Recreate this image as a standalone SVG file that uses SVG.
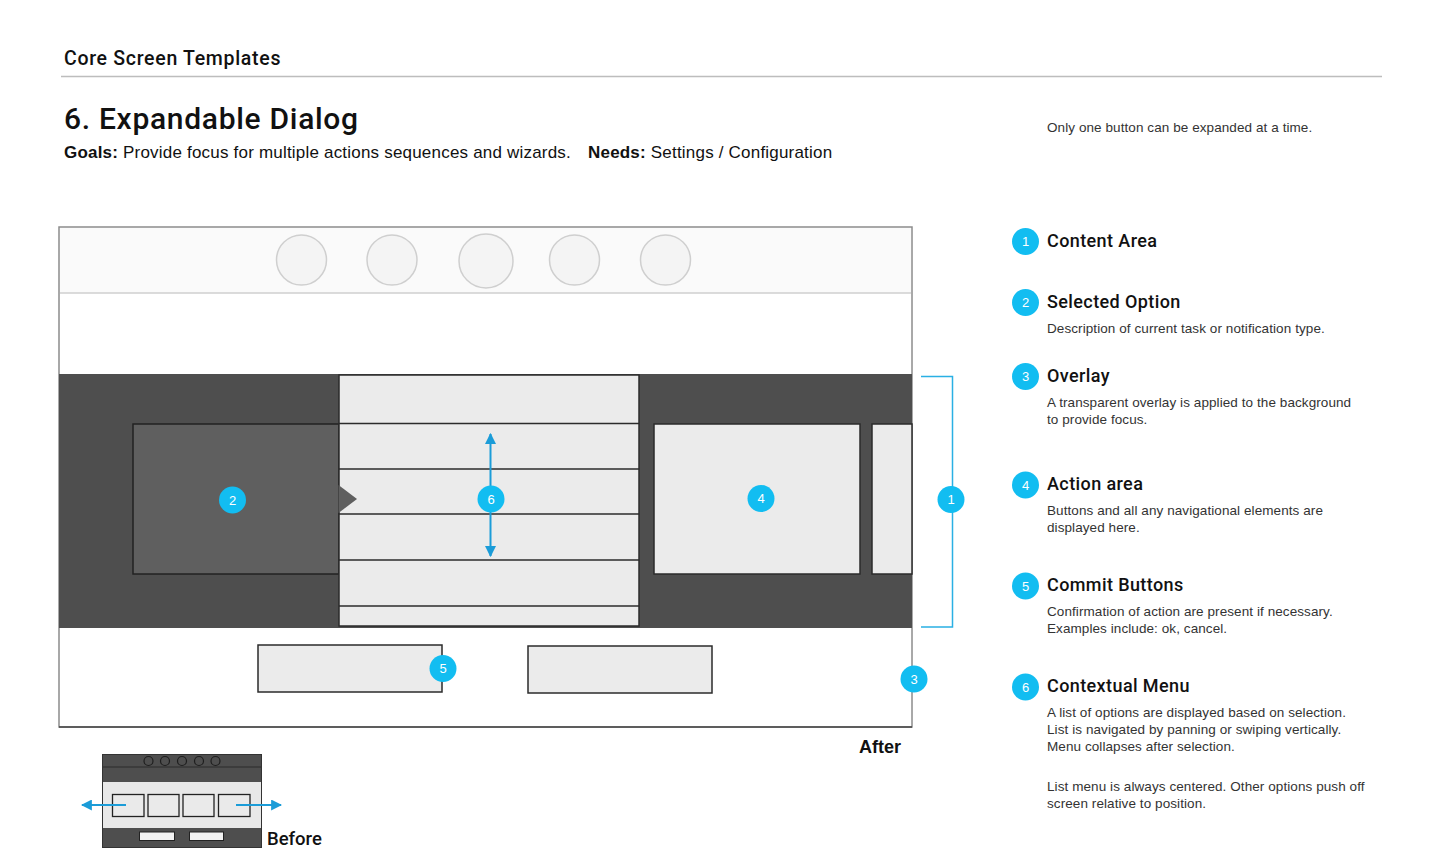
<svg xmlns="http://www.w3.org/2000/svg" width="1440" height="859" viewBox="0 0 1440 859">
<style>
.t{font-family:"Liberation Sans",Arial,sans-serif;fill:#111}
.h{font-family:Roboto,"Liberation Sans",sans-serif;font-weight:500;fill:#111}
.d{font-family:"Liberation Sans",Arial,sans-serif;font-size:13.5px;fill:#333;letter-spacing:0.08px}
.lh{font-family:Roboto,"Liberation Sans",sans-serif;font-weight:500;font-size:18px;fill:#111;letter-spacing:0.4px}
.bd{fill:#12bdf1}
.bn{font-family:"Liberation Sans",Arial,sans-serif;font-size:13px;fill:#fff;text-anchor:middle}
.item{fill:#ebebeb;stroke:#2b2b2b;stroke-width:1.5}
.nav{fill:#f4f4f4;stroke:#cfcfcf;stroke-width:1.5}
.blue{stroke:#1b9cd8;stroke-width:2;fill:none}
</style>
<defs>
<marker id="ah" viewBox="0 0 10 10" refX="9" refY="5" markerWidth="5.5" markerHeight="5.5" orient="auto-start-reverse">
<path d="M0,0 L10,5 L0,10 z" fill="#1b9cd8"/>
</marker>
</defs>
<rect width="1440" height="859" fill="#fff"/>

<g id="header">
<text class="h" x="64" y="65" font-size="19.5" letter-spacing="0.7">Core Screen Templates</text>
<line x1="61" y1="76.5" x2="1382" y2="76.5" stroke="#bdbdbd" stroke-width="1.5"/>
<text class="h" x="64" y="129" font-size="30" letter-spacing="0.7">6. Expandable Dialog</text>
<text class="t" x="64" y="158" font-size="17" letter-spacing="0.2"><tspan font-weight="bold">Goals:</tspan> Provide focus for multiple actions sequences and wizards.</text>
<text class="t" x="588" y="158" font-size="17" letter-spacing="0.2"><tspan font-weight="bold">Needs:</tspan> Settings / Configuration</text>
<text class="d" x="1047" y="132">Only one button can be expanded at a time.</text>
</g>

<g id="screen-after">
<rect x="59" y="227" width="853" height="500" fill="#fff" stroke="#8c8c8c" stroke-width="1.5"/>
<rect x="60" y="228" width="851" height="65" fill="#fafafa"/>
<line x1="60" y1="293" x2="911" y2="293" stroke="#cfcfcf" stroke-width="1.5"/>
<circle class="nav" cx="301.5" cy="260" r="25"/>
<circle class="nav" cx="392" cy="260" r="25"/>
<circle class="nav" cx="486" cy="261" r="27"/>
<circle class="nav" cx="574.5" cy="260" r="25"/>
<circle class="nav" cx="665.5" cy="260" r="25"/>
<line x1="59" y1="727" x2="912" y2="727" stroke="#444" stroke-width="1.5"/>
</g>

<g id="overlay">
<rect x="59" y="374" width="853" height="254" fill="#4e4e4e"/>
</g>

<g id="selected-option">
<rect x="133" y="424" width="206" height="150" fill="#5f5f5f" stroke="#222" stroke-width="1.5"/>
</g>

<g id="contextual-menu">
<rect x="339" y="375" width="300" height="251" class="item"/>
<line x1="339" y1="423.5" x2="639" y2="423.5" stroke="#2b2b2b" stroke-width="1.5"/>
<line x1="339" y1="469" x2="639" y2="469" stroke="#2b2b2b" stroke-width="1.5"/>
<line x1="339" y1="514" x2="639" y2="514" stroke="#2b2b2b" stroke-width="1.5"/>
<line x1="339" y1="560" x2="639" y2="560" stroke="#2b2b2b" stroke-width="1.5"/>
<line x1="339" y1="606" x2="639" y2="606" stroke="#2b2b2b" stroke-width="1.5"/>
<path d="M338.5,485 L357,499 L338.5,513 z" fill="#5f5f5f"/>
</g>

<g id="action-area">
<rect x="654" y="424" width="206" height="150" class="item"/>
<rect x="872" y="424" width="40" height="150" class="item"/>
</g>

<g id="commit-buttons">
<rect x="258" y="645" width="184" height="47" class="item"/>
<rect x="528" y="646" width="184" height="47" class="item"/>
</g>

<g id="connectors">
<line x1="490.5" y1="434" x2="490.5" y2="556" class="blue" marker-start="url(#ah)" marker-end="url(#ah)"/>
<path d="M921,376.5 H952.5 V627 H921" stroke="#2ab0e4" stroke-width="1.5" fill="none"/>
</g>

<g id="badges-diagram">
<circle cx="232.5" cy="500" r="13.5" class="bd"/><text class="bn" x="232.5" y="504.5">2</text>
<circle cx="491" cy="499" r="13.5" class="bd"/><text class="bn" x="491" y="503.5">6</text>
<circle cx="761" cy="498.5" r="13.5" class="bd"/><text class="bn" x="761" y="503">4</text>
<circle cx="951" cy="499.5" r="13.5" class="bd"/><text class="bn" x="951" y="504">1</text>
<circle cx="443" cy="668.5" r="13.5" class="bd"/><text class="bn" x="443" y="673">5</text>
<circle cx="914" cy="679" r="13.5" class="bd"/><text class="bn" x="914" y="683.5">3</text>
</g>

<g id="label-after">
<text class="t" x="859" y="753" font-size="18" font-weight="bold">After</text>
</g>

<g id="screen-before">
<rect x="102.5" y="754.5" width="159" height="93" fill="#4e4e4e" stroke="#333" stroke-width="1"/>
<line x1="103" y1="767" x2="261" y2="767" stroke="#2a2a2a" stroke-width="1"/>
<rect x="103" y="782" width="158" height="46" fill="#e8e8e8"/>
<g fill="#4e4e4e" stroke="#1e1e1e" stroke-width="1.2">
<circle cx="148.5" cy="761" r="4.5"/><circle cx="165" cy="761" r="4.5"/><circle cx="182" cy="761" r="4.5"/><circle cx="199" cy="761" r="4.5"/><circle cx="215.5" cy="761" r="4.5"/>
</g>
<g fill="#eaeaea" stroke="#222" stroke-width="1.3">
<rect x="112.5" y="794.5" width="31.5" height="22"/>
<rect x="148" y="794.5" width="31" height="22"/>
<rect x="183" y="794.5" width="31" height="22"/>
<rect x="218.5" y="794.5" width="31.5" height="22"/>
</g>
<rect x="139.5" y="832" width="35" height="8.5" fill="#f2f2f2" stroke="#222" stroke-width="1"/>
<rect x="189.5" y="832" width="34" height="8.5" fill="#f2f2f2" stroke="#222" stroke-width="1"/>
<line x1="126" y1="805" x2="82" y2="805" class="blue" marker-end="url(#ah)"/>
<line x1="236" y1="805" x2="281" y2="805" class="blue" marker-end="url(#ah)"/>
<text class="h" x="267" y="845" font-size="18.5">Before</text>
</g>

<g id="legend-1">
<circle cx="1025.5" cy="241.5" r="13.5" class="bd"/><text class="bn" x="1025.5" y="246">1</text>
<text class="lh" x="1047" y="247">Content Area</text>
</g>
<g id="legend-2">
<circle cx="1025.5" cy="302.5" r="13.5" class="bd"/><text class="bn" x="1025.5" y="307">2</text>
<text class="lh" x="1047" y="308">Selected Option</text>
<text class="d" x="1047" y="333">Description of current task or notification type.</text>
</g>
<g id="legend-3">
<circle cx="1025.5" cy="376.5" r="13.5" class="bd"/><text class="bn" x="1025.5" y="381">3</text>
<text class="lh" x="1047" y="382">Overlay</text>
<text class="d" x="1047" y="407">A transparent overlay is applied to the background</text>
<text class="d" x="1047" y="424">to provide focus.</text>
</g>
<g id="legend-4">
<circle cx="1025.5" cy="485" r="13.5" class="bd"/><text class="bn" x="1025.5" y="489.5">4</text>
<text class="lh" x="1047" y="490">Action area</text>
<text class="d" x="1047" y="515">Buttons and all any navigational elements are</text>
<text class="d" x="1047" y="532">displayed here.</text>
</g>
<g id="legend-5">
<circle cx="1025.5" cy="586" r="13.5" class="bd"/><text class="bn" x="1025.5" y="590.5">5</text>
<text class="lh" x="1047" y="591">Commit Buttons</text>
<text class="d" x="1047" y="616">Confirmation of action are present if necessary.</text>
<text class="d" x="1047" y="633">Examples include: ok, cancel.</text>
</g>
<g id="legend-6">
<circle cx="1025.5" cy="687" r="13.5" class="bd"/><text class="bn" x="1025.5" y="691.5">6</text>
<text class="lh" x="1047" y="692">Contextual Menu</text>
<text class="d" x="1047" y="717">A list of options are displayed based on selection.</text>
<text class="d" x="1047" y="734">List is navigated by panning or swiping vertically.</text>
<text class="d" x="1047" y="751">Menu collapses after selection.</text>
<text class="d" x="1047" y="791">List menu is always centered. Other options push off</text>
<text class="d" x="1047" y="808">screen relative to position.</text>
</g>
</svg>
